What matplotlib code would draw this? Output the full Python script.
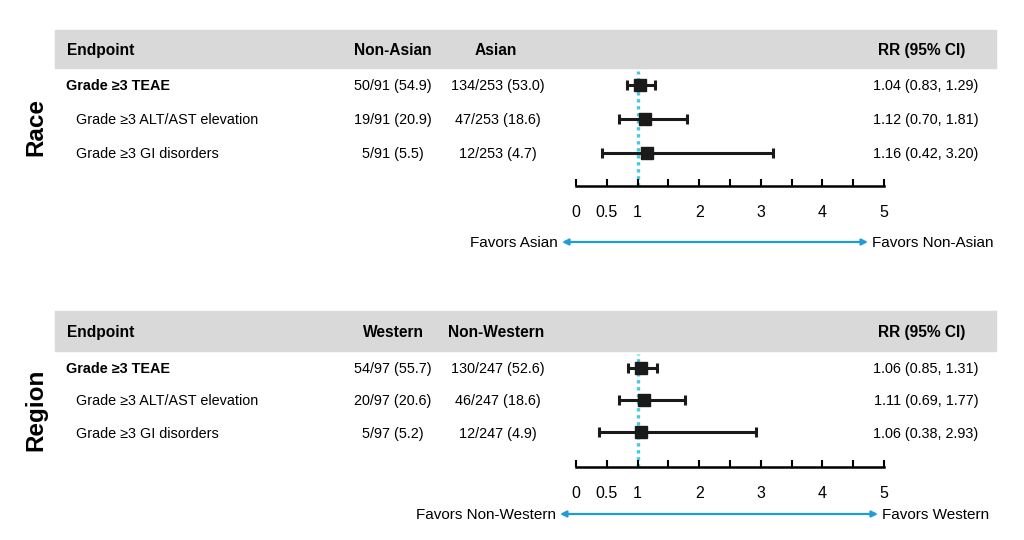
import matplotlib
matplotlib.use('Agg')
import matplotlib.pyplot as plt
from matplotlib.patches import Rectangle

plt.rcParams['font.family'] = ['Liberation Sans', 'DejaVu Sans']

#donnees
endpoints = ['Grade ≥3 TEAE', 'Grade ≥3 ALT/AST elevation', 'Grade ≥3 GI disorders']

race_groups = ['Non-Asian', 'Asian']
race_g1 = ['50/91 (54.9)', '19/91 (20.9)', '5/91 (5.5)']
race_g2 = ['134/253 (53.0)', '47/253 (18.6)', '12/253 (4.7)']
race_rr = [1.04, 1.12, 1.16]
race_lo = [0.83, 0.70, 0.42]
race_hi = [1.29, 1.81, 3.20]
race_fav = ['Favors Asian', 'Favors Non-Asian']

region_groups = ['Western', 'Non-Western']
region_g1 = ['54/97 (55.7)', '20/97 (20.6)', '5/97 (5.2)']
region_g2 = ['130/247 (52.6)', '46/247 (18.6)', '12/247 (4.9)']
region_rr = [1.06, 1.11, 1.06]
region_lo = [0.85, 0.69, 0.38]
region_hi = [1.31, 1.77, 2.93]
region_fav = ['Favors Non-Western', 'Favors Western']

xticks = [0, 0.5, 1, 2, 3, 4, 5]
xticklabels = ['0', '0.5', '1', '2', '3', '4', '5']

W, H = 1024, 540
fig = plt.figure(figsize=(W / 100, H / 100), dpi=100)

#axe de fond en pixels (y vers le bas)
bg = fig.add_axes([0, 0, 1, 1])
bg.set_xlim(0, W)
bg.set_ylim(H, 0)
bg.axis('off')

blue = '#1f9bd7'
cyan = '#46c9e0'
fs_head = 11.2
fs_body = 10.4
fs_fav = 11


def txt(x, y, s, fs, **kw):
    #texte centre verticalement sur la hauteur des majuscules (baseline + demi cap height)
    off = 0.716 * fs * 100 / 72 / 2
    bg.text(x, y + off, s, fontsize=fs, va='baseline', **kw)


def panel(label, groups, g1, g2, rr, lo, hi, fav, head_top, head_bot, rows_y, axis_y, arrow_y, arrow_x):
    #bandeau gris
    bg.add_patch(Rectangle((55, head_top), 941, head_bot - head_top, color='#d9d9d9', zorder=0))
    hy = (head_top + head_bot) / 2
    txt(67, hy, 'Endpoint', fs_head, fontweight='bold')
    txt(393, hy, groups[0], fs_head, fontweight='bold', ha='center')
    txt(496, hy, groups[1], fs_head, fontweight='bold', ha='center')
    txt(922, hy, 'RR (95% CI)', fs_head, fontweight='bold', ha='center')

    #label vertical
    bg.text(36, (rows_y[0] + axis_y) / 2 - 8, label, fontsize=17.5, fontweight='bold',
            rotation=90, va='center', ha='center')

    for i in range(len(endpoints)):
        y = rows_y[i]
        if i == 0:
            txt(66, y, endpoints[i], fs_body, fontweight='bold')
        else:
            txt(76, y, endpoints[i], fs_body)
        txt(393, y, g1[i], fs_body, ha='center')
        txt(498, y, g2[i], fs_body, ha='center')
        txt(926, y, '%.2f (%.2f, %.2f)' % (rr[i], lo[i], hi[i]), fs_body, ha='center')

    #axe forest plot : x de 576 a 884 px
    x0, x1 = 576, 884
    step = rows_y[1] - rows_y[0]
    top_px = head_bot + 3
    ax = fig.add_axes([x0 / W, 1 - axis_y / H, (x1 - x0) / W, (axis_y - top_px) / H])
    ax.set_xlim(0, 5)
    ax.set_ylim((axis_y - rows_y[0]) / step, (top_px - rows_y[0]) / step)
    ax.patch.set_visible(False)
    for s in ['top', 'left', 'right']:
        ax.spines[s].set_visible(False)
    ax.spines['bottom'].set_linewidth(1.8)
    ax.set_yticks([])
    ax.set_xticks(xticks)
    ax.set_xticklabels(xticklabels, fontsize=11.5)
    ax.set_xticks([1.5, 2.5, 3.5, 4.5], minor=True)
    ax.tick_params(axis='x', which='both', direction='in', length=5, width=1.5, pad=14)
    ax.axvline(1, color=cyan, linestyle=(0, (1, 1.1)), linewidth=2.4, zorder=1)
    ypos = list(range(len(rr)))
    xerr = [[r - l for r, l in zip(rr, lo)], [h - r for r, h in zip(rr, hi)]]
    ax.errorbar(rr, ypos, xerr=xerr, fmt='s', color='#1a1a1a', markersize=8.5,
                elinewidth=2.2, capsize=3.5, capthick=2.2, zorder=3)

    #fleche favors
    bg.annotate('', xy=(arrow_x[0], arrow_y), xytext=(arrow_x[1], arrow_y),
                arrowprops=dict(arrowstyle='<|-|>', color=blue, lw=1.6, mutation_scale=9, shrinkA=0, shrinkB=0))
    txt(arrow_x[0] - 4, arrow_y, fav[0], fs_fav, ha='right')
    txt(arrow_x[1] + 4, arrow_y, fav[1], fs_fav, ha='left')


panel('Race', race_groups, race_g1, race_g2, race_rr, race_lo, race_hi, race_fav,
      30, 68, [85, 119, 153], 186, 242, (562, 868))
panel('Region', region_groups, region_g1, region_g2, region_rr, region_lo, region_hi, region_fav,
      311, 351, [368, 400, 433], 467, 514, (560, 878))

plt.savefig('out.png', dpi=100)
